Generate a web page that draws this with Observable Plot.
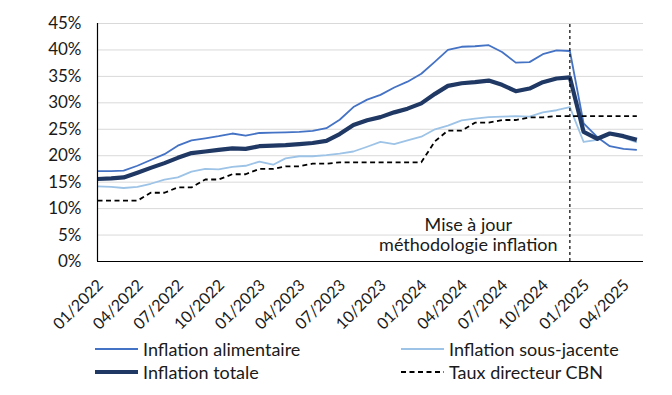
<!DOCTYPE html>
<html><head><meta charset="utf-8">
<script src="https://cdn.jsdelivr.net/npm/d3@7"></script>
<script src="https://cdn.jsdelivr.net/npm/@observablehq/plot@0.6"></script>
<style>
body{margin:0;background:#fff;font-family:Lato,sans-serif;}
#wrap{position:relative;width:672px;height:395px;overflow:hidden;}
.leg{position:absolute;display:flex;align-items:center;font-size:18px;color:#1a1a1a;white-space:nowrap;line-height:22px;height:22px;}
.leg svg{margin-right:5px;display:block}
</style></head><body><div id="wrap"></div>
<script>
// ---- data (monthly, 01/2022 .. 05/2025) ----
const firstMonth = "2022-01";
const foodInflation = [17.1,17.1,17.2,18.1,19.2,20.3,21.9,22.9,23.3,23.7,24.2,23.8,
  24.3,24.35,24.4,24.5,24.7,25.2,26.8,29.2,30.6,31.5,32.9,34.0,
  35.5,37.8,40.0,40.6,40.7,40.9,39.6,37.6,37.7,39.2,39.9,39.8,
  26.1,23.5,21.8,21.3,21.1];
const coreInflation = [14.2,14.1,13.9,14.1,14.7,15.5,15.9,17.0,17.5,17.4,17.9,18.1,
  18.9,18.3,19.5,19.9,19.9,20.1,20.4,20.8,21.7,22.6,22.2,22.9,
  23.6,25.0,25.7,26.7,27.0,27.3,27.4,27.5,27.4,28.2,28.6,29.2,
  22.6,23.0,24.3,23.4,22.5];
const headlineInflation = [15.6,15.7,15.9,16.8,17.7,18.6,19.6,20.5,20.8,21.1,21.4,21.3,
  21.8,21.9,22.0,22.2,22.4,22.8,24.1,25.8,26.7,27.3,28.2,28.9,
  29.9,31.7,33.2,33.7,33.9,34.2,33.4,32.2,32.7,33.9,34.6,34.8,
  24.5,23.2,24.2,23.7,23.0];
const policyRate = [11.5,11.5,11.5,11.5,13,13,14,14,15.5,15.5,16.5,16.5,
  17.5,17.5,18,18,18.5,18.5,18.75,18.75,18.75,18.75,18.75,18.75,
  18.75,22.75,24.75,24.75,26.25,26.25,26.75,26.75,27.25,27.25,27.5,27.5,
  27.5,27.5,27.5,27.5,27.5];
const seriesNames = ["Inflation alimentaire","Inflation sous-jacente","Inflation totale","Taux directeur CBN"];
const xTickLabels = ["01/2022","04/2022","07/2022","10/2022","01/2023","04/2023","07/2023","10/2023","01/2024","04/2024","07/2024","10/2024","01/2025","04/2025"];
const yTicks = [0,5,10,15,20,25,30,35,40,45];
const methodologyMonth = "12/2024";
const annotationText = "Mise à jour\nméthodologie inflation";
const annotationMonth = "04/2024";
const annotationValue = 5.1;
const xEnd = "2025-05-16";

// ---- build ----
const parseMY = d3.utcParse("%m/%Y");
const start = d3.utcParse("%Y-%m")(firstMonth);
const dates = foodInflation.map((_, i) => d3.utcMonth.offset(start, i));
const toRows = arr => arr.map((v, i) => ({date: dates[i], value: v}));
const xDomain = [start, d3.utcParse("%Y-%m-%d")(xEnd)];
const fmt = d3.utcFormat("%m/%Y");
const annDate = d3.utcDay.offset(parseMY(annotationMonth), 15);

const colors = ["#4472C4", "#9DC3E6", "#1F3864", "#000000"];
const widths = [1.8, 1.8, 4.2, 1.8];
const dashes = [null, null, null, "5,3.5"];
const allSeries = [foodInflation, coreInflation, headlineInflation, policyRate];

const chart = Plot.plot({
  width: 672, height: 332,
  marginLeft: 97, marginRight: 29, marginTop: 23, marginBottom: 71,
  style: {fontFamily: "Lato, sans-serif", background: "#fff"},
  x: {type: "utc", domain: xDomain, label: null},
  y: {domain: [0, 45], label: null},
  marks: [
    Plot.gridY(yTicks.filter(d => d > 0), {stroke: "#d9d9d9", strokeOpacity: 1, strokeWidth: 1}),
    ...allSeries.map((s, k) => Plot.line(toRows(s), {
      x: "date", y: "value", stroke: colors[k], strokeWidth: widths[k],
      strokeDasharray: dashes[k] || undefined, strokeLinejoin: "round", strokeLinecap: "butt"
    })),
    Plot.ruleX([parseMY(methodologyMonth)], {y1: 0, y2: 45, stroke: "#000", strokeWidth: 1.2, strokeDasharray: "3,3"}),
    Plot.text([annotationText], {x: annDate, y: annotationValue, text: d => d, fontSize: 18, lineHeight: 1.12, fill: "#1a1a1a", textAnchor: "middle", lineAnchor: "middle"}),
    Plot.ruleY([0], {stroke: "#000", strokeWidth: 1.2}),
    Plot.ruleX([xDomain[0]], {y1: 0, y2: 45, stroke: "#000", strokeWidth: 1.2}),
    Plot.axisY(yTicks, {tickFormat: d => d + "%", tickSize: 0, tickPadding: 16, fontSize: 17, color: "#1a1a1a", label: null}),
    Plot.axisX(xTickLabels.map(parseMY), {tickFormat: fmt, tickRotate: -45, tickSize: 0, tickPadding: 21, dx: 3, fontSize: 16, color: "#1a1a1a", label: null})
  ]
});
const wrap = document.getElementById("wrap");
wrap.appendChild(chart);

// ---- legend ----
const legPos = [[95, 338], [401, 338], [95, 361], [401, 361]];
seriesNames.forEach((name, k) => {
  const d = document.createElement("div");
  d.className = "leg";
  d.style.left = legPos[k][0] + "px";
  d.style.top = legPos[k][1] + "px";
  const dash = k === 3 ? ' stroke-dasharray="5,3.5"' : "";
  d.innerHTML = `<svg width="43" height="8"><line x1="0" y1="4" x2="43" y2="4" stroke="${colors[k]}" stroke-width="${widths[k]}"${dash}/></svg><span>${name}</span>`;
  wrap.appendChild(d);
});
</script></body></html>
